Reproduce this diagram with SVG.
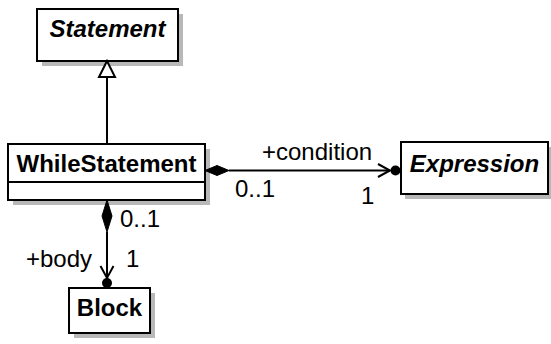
<svg xmlns="http://www.w3.org/2000/svg" width="551" height="344" viewBox="0 0 551 344">
<style>
.box{fill:#fff;stroke:#000;stroke-width:2}
.shadow{fill:#b8b8b8}
.ln{fill:none;stroke:#000;stroke-width:2}
.t{font-family:"Liberation Sans",Arial,sans-serif;font-size:24px;fill:#000}
.b{font-weight:bold}
.i{font-style:italic}
</style>
<rect width="551" height="344" fill="#fff"/>
<g id="Statement">
<rect class="shadow" x="42" y="14" width="141" height="52"/>
<rect class="box" x="37" y="9" width="141" height="52"/>
<text class="t b i" x="107.5" y="37" text-anchor="middle">Statement</text>
</g>
<g id="WhileStatement">
<rect class="shadow" x="13" y="149" width="197" height="56"/>
<rect class="box" x="8" y="144" width="197" height="56"/>
<line class="ln" x1="8" y1="182" x2="205" y2="182"/>
<text class="t b" x="106.5" y="172" text-anchor="middle">WhileStatement</text>
</g>
<g id="Expression">
<rect class="shadow" x="405" y="147" width="146" height="52"/>
<rect class="box" x="401" y="142" width="147" height="52"/>
<text class="t b i" x="474.5" y="172" text-anchor="middle">Expression</text>
</g>
<g id="Block">
<rect class="shadow" x="74" y="293" width="81" height="45"/>
<rect class="box" x="69" y="288" width="81" height="45"/>
<text class="t b" x="109.5" y="316" text-anchor="middle">Block</text>
</g>
<g id="connectors">
<line class="ln" x1="107" y1="77" x2="107" y2="144"/>
<polygon points="107,61 99,77 115,77" fill="#fff" stroke="#000" stroke-width="2"/>
<line class="ln" x1="229" y1="170.5" x2="390" y2="170.5"/>
<polygon points="205,170.5 217,165.5 229,170.5 217,175.5" fill="#000" stroke="#000" stroke-width="1"/>
<polyline class="ln" points="378,164 390,170.5 378,177"/>
<circle cx="395.5" cy="170.5" r="5" fill="#000"/>
<line class="ln" x1="107" y1="232" x2="107" y2="278"/>
<polygon points="107,200 102,216 107,232 112,216" fill="#000" stroke="#000" stroke-width="1"/>
<polyline class="ln" points="100.5,266 107,278 113.5,266"/>
<circle cx="107" cy="283" r="5" fill="#000"/>
<text class="t" x="262" y="160">+condition</text>
<text class="t" x="235" y="197">0..1</text>
<text class="t" x="361" y="204">1</text>
<text class="t" x="120" y="227">0..1</text>
<text class="t" x="26" y="267">+body</text>
<text class="t" x="126" y="267">1</text>
</g>
</svg>
